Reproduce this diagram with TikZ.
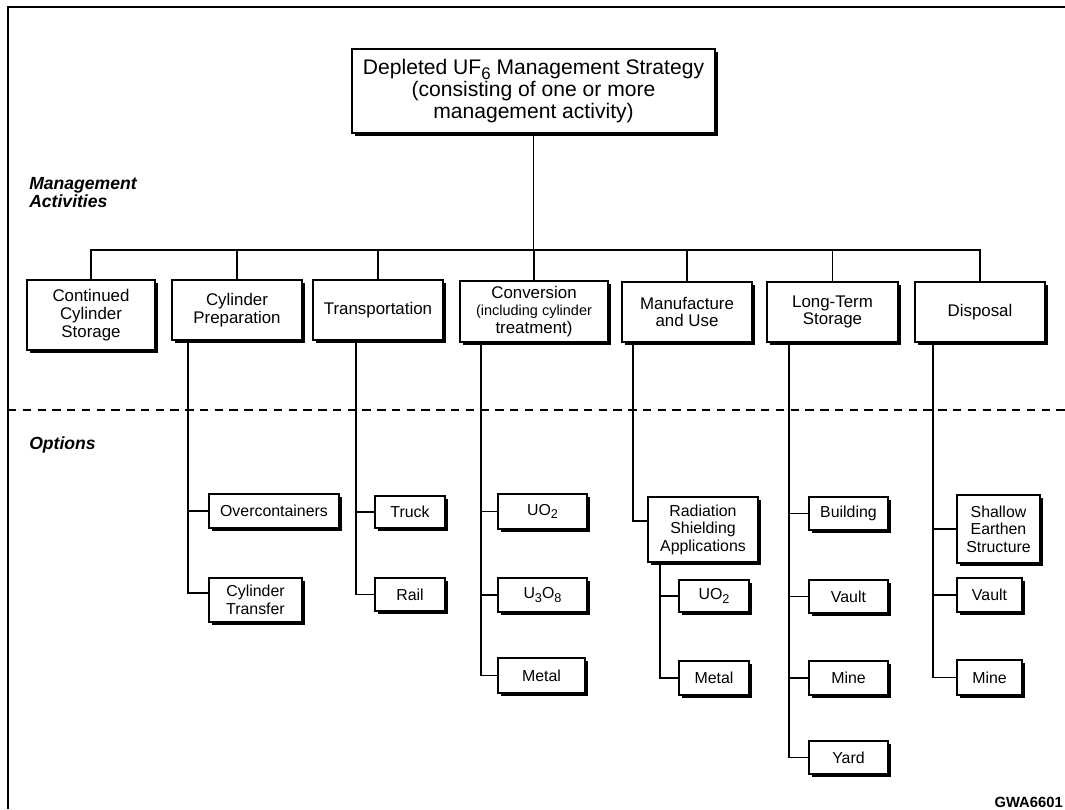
\documentclass[tikz,border=0pt]{standalone}
\usepackage{fontspec}
\usepackage{graphicx}
\setmainfont{Liberation Sans}
\usetikzlibrary{shadows}
\newcommand{\chem}[1]{\raisebox{-0.45ex}{\scalebox{0.8}{#1}}}

\begin{document}
\begin{tikzpicture}[
    x=0.025cm, y=-0.025cm,
    wh/.style 2 args={minimum width=#1*0.025cm, minimum height=#2*0.025cm},
    box/.style={rectangle, draw=black, line width=1pt, fill=white, align=center, inner sep=1pt,
        drop shadow={shadow xshift=1.8pt, shadow yshift=-1.8pt, fill=black, opacity=1},
        font=\fontsize{11.3}{12.4}\selectfont},
    actbox/.style={box, font=\fontsize{12}{12.6}\selectfont},
    topbox/.style={box, font=\fontsize{15}{15.6}\selectfont},
    tag/.style={anchor=north west, align=left, inner sep=0pt, font=\fontsize{12.5}{13}\selectfont\bfseries\itshape},
    link/.style={line width=1pt}
]
\useasboundingbox (0,0) rectangle (1065,809);

% Frame and divider
\draw[line width=1pt] (1065,7) -- (8,7) -- (8,809);
\draw[dashed, dash pattern=on 6pt off 4.5pt, line width=0.9pt] (8,410) -- (1065,410);

% Labels
\node[tag] (mgmt) at (29,177) {Management\\Activities};
\node[tag] (opts) at (29,436) {Options};
\node[anchor=east, inner sep=0pt, font=\fontsize{10.5}{11}\selectfont\bfseries] (gwa) at (1063,802) {GWA6601};

% Strategy
\node[topbox, wh={363}{84}] (strategy) at (533.5,91) {Depleted UF\chem{6} Management Strategy\\(consisting of one or more\\management activity)};

% Management activities
\node[actbox, wh={128}{70}] (storage) at (91,315) {Continued\\Cylinder\\Storage};
\node[actbox, wh={130}{60}] (prep) at (237,310) {Cylinder\\Preparation};
\node[actbox, wh={130}{60}] (transport) at (378,310) {Transportation};
\node[actbox, wh={148}{61}] (conversion) at (534,311.5) {Conversion\\\fontsize{10.3}{10.6}\selectfont(including cylinder\\treatment)};
\node[actbox, wh={130}{60}] (manufacture) at (687,312) {Manufacture\\and Use};
\node[actbox, wh={131}{60}] (longterm) at (832.5,312) {Long-Term\\Storage};
\node[actbox, wh={130}{60}] (disposal) at (980,312) {Disposal};

% Options
\node[box, wh={130}{34}] (overpack) at (274,511) {Overcontainers};
\node[box, wh={93}{44}] (transfer) at (255.5,600) {Cylinder\\Transfer};
\node[box, wh={70}{32}] (truck) at (410,512) {Truck};
\node[box, wh={70}{33}] (rail) at (410,594.5) {Rail};
\node[box, wh={89}{35}] (convUO) at (542.5,511.5) {UO\chem{2}};
\node[box, wh={89}{34}] (convUOO) at (542.5,595) {U\chem{3}O\chem{8}};
\node[box, wh={87}{35}] (convmetal) at (541.5,675.5) {Metal};
\node[box, wh={110}{65}] (shielding) at (703,529.5) {Radiation\\Shielding\\Applications};
\node[box, wh={70}{32}] (shieldUO) at (714,596) {UO\chem{2}};
\node[box, wh={70}{34}] (shieldmetal) at (714,678) {Metal};
\node[box, wh={79}{33}] (building) at (848.5,513.5) {Building};
\node[box, wh={79}{33}] (ltvault) at (848.5,596.5) {Vault};
\node[box, wh={79}{34}] (ltmine) at (848.5,678) {Mine};
\node[box, wh={79}{33}] (yard) at (848.5,757.5) {Yard};
\node[box, wh={83}{68}] (earthen) at (998.5,529) {Shallow\\Earthen\\Structure};
\node[box, wh={65}{34}] (dvault) at (989.5,595) {Vault};
\node[box, wh={65}{35}] (dmine) at (989.5,677.5) {Mine};

% Tree above the activities
\coordinate (bus) at (533.5,250);
\draw[link] (strategy.south) -- (bus);
\draw[link] (storage.north) |- (bus) -| (disposal.north);
\foreach \act in {prep,transport,conversion,manufacture,longterm}
  \draw[link] (\act.north) -- (\act.north |- bus);

% Stems into the options
\coordinate (prepstem) at (188,0 |- prep.south);
\coordinate (transtem) at (356,0 |- transport.south);
\coordinate (convstem) at (481,0 |- conversion.south);
\coordinate (manustem) at (633,0 |- manufacture.south);
\coordinate (shieldstem) at (660,0 |- shielding.south);
\coordinate (ltstem) at (789,0 |- longterm.south);
\coordinate (dispstem) at (933,0 |- disposal.south);

\draw[link] (prepstem) |- (overpack.west);
\draw[link] (prepstem) |- ([yshift=5pt]transfer.west);
\draw[link] (manustem) |- ([yshift=6pt]shielding.west);
\foreach \stem/\opt in {transtem/truck, transtem/rail, convstem/convUO, convstem/convUOO, convstem/convmetal,
    shieldstem/shieldUO, shieldstem/shieldmetal, ltstem/building, ltstem/ltvault, ltstem/ltmine, ltstem/yard,
    dispstem/earthen, dispstem/dvault, dispstem/dmine}
  \draw[link] (\stem) |- (\opt.west);

\end{tikzpicture}
\end{document}
